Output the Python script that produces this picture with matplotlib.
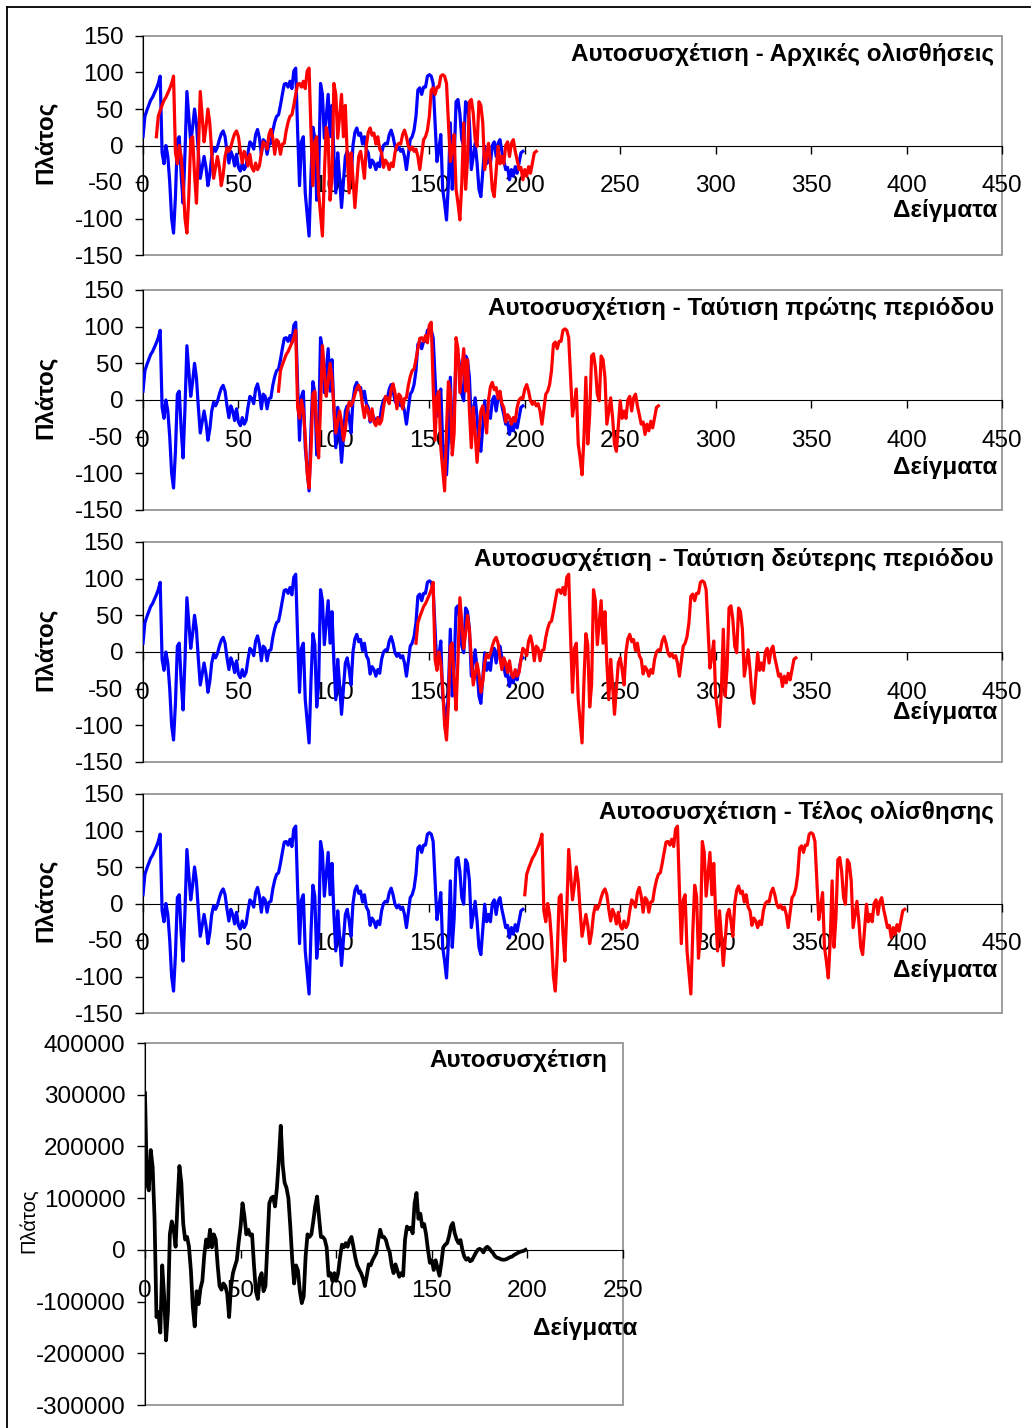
import numpy as np
import matplotlib.pyplot as plt
from matplotlib.patches import Rectangle
from matplotlib.lines import Line2D

plt.rcParams['font.family'] = ['Liberation Sans', 'DejaVu Sans']
plt.rcParams['axes.unicode_minus'] = False

# speech frame (200 samples)
signal = [
    12, 40, 48, 55, 62, 66, 72, 78, 85, 95,
    -10, -25, 0, -15, -50, -100, -120, -70, 8, 12,
    -40, -79, -10, 74, 40, 5, 25, 50, 30, -10,
    -45, -30, -15, -30, -55, -40, -15, -3, -8, -2,
    8, 16, 20, 12, -8, -24, -8, -15, -28, -12,
    -30, -35, -24, -33, -28, -10, 5, 2, -5, 15,
    22, 10, -12, 8, 5, -12, 2, 3, 20, 32,
    40, 42, 55, 70, 84, 85, 80, 88, 78, 102,
    106, 20, -55, 5, 12, -65, -95, -124, -40, 25,
    10, -75, -45, 85, 70, 10, 40, 70, 12, 55,
    -15, -65, -10, -45, -85, -50, -15, -8, -24, -45,
    0, 18, 24, 14, 17, 2, 12, -5, -10, -30,
    -20, -24, -33, -24, -29, -10, 0, 3, 2, 15,
    21, 12, -1, -6, -2, -8, -5, -15, -33, -12,
    8, 12, 21, 40, 76, 79, 70, 80, 80, 95,
    97, 95, 85, 30, -22, -5, 15, -60, -79, -102,
    -52, 31, -60, -20, 60, 63, 44, 8, -1, 60,
    55, 31, -33, -15, 3, -24, -60, -70, -35, -1,
    -25, -15, -25, 0, 5, -15, 3, 8, -8, -20,
    -33, -30, -47, -33, -42, -29, -38, -24, -10, -8,
]

# autocorrelation per lag
autocorr = [
    303000, 130000, 115000, 193000, 160000, 60000, -130000, -120000, -160000, -30000,
    -90000, -175000, -120000, 30000, 55000, 40000, 6000, 90000, 162000, 130000,
    50000, 20000, 25000, 6000, -40000, -110000, -148000, -80000, -105000, -75000,
    -60000, -10000, 20000, 5000, 39000, 5000, 30000, 20000, -30000, -70000,
    -77000, -65000, -70000, -85000, -130000, -70000, -45000, -32000, -20000, 15000,
    45000, 90000, 65000, 30000, 39000, 28000, 30000, -30000, -80000, -95000,
    -55000, -45000, -80000, -70000, 10000, 90000, 100000, 103000, 84000, 120000,
    175000, 240000, 165000, 130000, 120000, 100000, 45000, -19000, -65000, -30000,
    -40000, -80000, -103000, -90000, -13000, 30000, 25000, 30000, 55000, 84000,
    103000, 64000, 25000, 25000, 20000, 5000, -50000, -45000, -60000, -45000,
    -60000, -45000, -15000, 10000, 5000, 13000, 6000, 19000, 25000, 6000,
    -15000, -30000, -38000, -45000, -55000, -70000, -50000, -28000, -30000, -20000,
    -13000, -6000, 19000, 39000, 25000, 25000, 19000, 5000, -5000, -30000,
    -45000, -28000, -40000, -52000, -45000, -50000, 20000, 45000, 40000, 43000,
    32000, 90000, 110000, 60000, 70000, 45000, 50000, 30000, 0, -25000,
    -20000, -39000, -20000, -35000, -50000, -25000, 5000, 10000, 13000, 26000,
    45000, 52000, 32000, 20000, 13000, 19000, 0, -13000, -19000, -16000,
    -22000, -20000, -13000, -6000, 0, 2000, 0, -5000, 3000, 6000,
    3000, -2000, -6000, -12000, -15000, -16000, -18000, -19000, -19000, -18000,
    -16000, -14000, -13000, -10000, -8000, -6000, -4000, -3000, -2000, 0,
]

titles = [
    "Αυτοσυσχέτιση - Αρχικές ολισθήσεις",
    "Αυτοσυσχέτιση - Ταύτιση πρώτης περιόδου",
    "Αυτοσυσχέτιση - Ταύτιση δεύτερης περιόδου",
    "Αυτοσυσχέτιση - Τέλος ολίσθησης",
]
shifts = [7, 71, 143, 200]
sig_xticks = np.arange(0, 451, 50)
sig_yticks = np.arange(-150, 151, 50)
ac_xticks = np.arange(0, 251, 50)
ac_yticks = np.arange(-300000, 400001, 100000)

W, H = 1035, 1428
fig = plt.figure(figsize=(W / 100, H / 100), dpi=100)
FS = 17.5


def px_axes(left, top, right, bottom):
    return fig.add_axes([left / W, 1 - bottom / H, (right - left) / W, (bottom - top) / H])


def px_text(x, y, s, **kw):
    fig.text(x / W, 1 - y / H, s, **kw)


def excel_style(ax):
    ax.patch.set_alpha(0)
    for side in ['top', 'right']:
        ax.spines[side].set_visible(False)
    ax.spines['bottom'].set_position(('data', 0))
    ax.spines['bottom'].set_color('black')
    ax.spines['left'].set_color('black')
    ax.add_patch(Rectangle((0, 0), 1, 1, transform=ax.transAxes, fill=False,
                           ec='#8c8c8c', lw=1.2, zorder=0.5, clip_on=False))
    ax.tick_params(direction='out', length=6, width=1, labelsize=FS)
    ax.tick_params(axis='x', top=False, pad=15.5)
    ax.tick_params(axis='y', pad=8)


sig = np.array(signal)
n = np.arange(len(sig))
panels = [(36, 255), (290, 510), (542, 762), (794, 1013)]
xlab_y = [211, 468, 713, 970]

for i, (top, bot) in enumerate(panels):
    ax = px_axes(143, top, 1002, bot)
    excel_style(ax)
    ax.plot(n, sig, color='#0000ff', lw=2.3, zorder=3)
    ax.plot(n + shifts[i], sig, color='#ff0000', lw=2.3, zorder=4)
    ax.set_xlim(0, 450)
    ax.set_ylim(-150, 150)
    ax.set_xticks(sig_xticks)
    ax.set_yticks(sig_yticks)
    px_text(994, top + 18, titles[i], ha='right', va='center',
            fontsize=FS, fontweight='bold')
    px_text(997, xlab_y[i], "Δείγματα", ha='right', va='center',
            fontsize=FS, fontweight='bold')
    ax_zero = top + (bot - top) / 2
    px_text(45, ax_zero - 3, "Πλάτος", ha='center', va='center', rotation=90,
            fontsize=FS, fontweight='bold')

# autocorrelation panel
ac = np.array(autocorr)
ax = px_axes(145, 1043, 623, 1405)
excel_style(ax)
ax.plot(np.arange(len(ac)), ac, color='black', lw=2.7, zorder=3)
ax.set_xlim(0, 250)
ax.set_ylim(-300000, 400000)
ax.set_xticks(ac_xticks)
ax.set_yticks(ac_yticks)
ax.set_yticklabels([str(v) for v in ac_yticks])
px_text(607, 1061, "Αυτοσυσχέτιση", ha='right', va='center',
        fontsize=FS, fontweight='bold')
px_text(637, 1328, "Δείγματα", ha='right', va='center',
        fontsize=FS, fontweight='bold')
px_text(28, 1221, "Πλάτος", ha='center', va='center', rotation=90, fontsize=14.5)

# outer chart frame
fig.add_artist(Line2D([7 / W, 7 / W], [0, 1 - 7 / H], color='black', lw=1.3))
fig.add_artist(Line2D([7 / W, 1030 / W], [1 - 7 / H, 1 - 7 / H], color='black', lw=1.3))

fig.savefig("out.png", dpi=100)
